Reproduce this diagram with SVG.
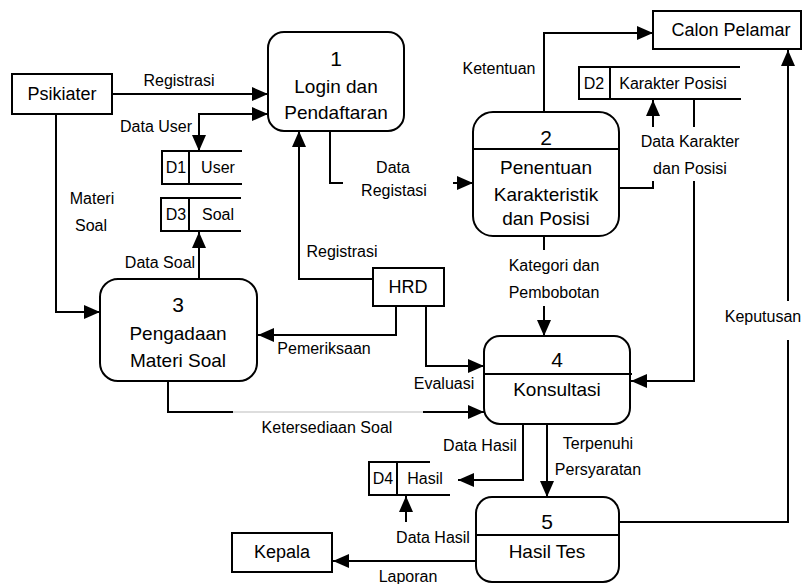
<svg xmlns="http://www.w3.org/2000/svg" width="803" height="584" viewBox="0 0 803 584">
<style>
text{font-family:"Liberation Sans",Arial,sans-serif;fill:#000;text-anchor:middle}
.lb{font-size:16px}
.nd{font-size:19px}
.num{font-size:21px}
.ent{font-size:18px}
.st{font-size:16px}
.box{fill:#fff;stroke:#000;stroke-width:2}
.ln{fill:none;stroke:#000;stroke-width:2}
.ar{fill:none;stroke:#000;stroke-width:2;marker-end:url(#ah)}
</style>
<defs>
<marker id="ah" markerUnits="userSpaceOnUse" markerWidth="16" markerHeight="14" refX="16" refY="7" orient="auto">
<path d="M0,0 L16,7 L0,14 z" fill="#000"/>
</marker>
<marker id="as" markerUnits="userSpaceOnUse" markerWidth="16" markerHeight="14" refX="0" refY="7" orient="auto">
<path d="M16,0 L0,7 L16,14 z" fill="#000"/>
</marker>
</defs>
<rect width="803" height="584" fill="#fff"/>

<g id="connectors">
<path class="ar" d="M112,94 H268"/>
<path class="ln" d="M268,114 H199 V151" style="marker-start:url(#as);marker-end:url(#ah)"/>
<path class="ln" d="M330,131 V183 H343"/>
<path class="ar" d="M453,183 H473"/>
<path class="ar" d="M373,279 H299 V131"/>
<path class="ar" d="M544,112 V33 H653"/>
<path class="ln" d="M619,188 H653 V181"/>
<path class="ar" d="M653,127 V100"/>
<path class="ln" d="M694,99 V127"/>
<path class="ar" d="M694,181 V381 H631"/>
<path class="ln" d="M619,522 H788 V340"/>
<path class="ar" d="M788,301 V50"/>
<path class="ln" d="M544,236 V250"/>
<path class="ar" d="M544,306 V336"/>
<path class="ar" d="M56,114 V312 H100"/>
<path class="ar" d="M199,279 V232"/>
<path class="ar" d="M396,306 V335 H258"/>
<path class="ar" d="M426,306 V366 H484"/>
<path class="ln" d="M168,381 V412 H233"/>
<path d="M233,412 H423" fill="none" stroke="#bbb" stroke-width="1"/>
<path class="ar" d="M423,412 H484"/>
<path class="ar" d="M523,424 V480 H458"/>
<path class="ar" d="M547,424 V497"/>
<path class="ar" d="M406,522 V496"/>
<path class="ar" d="M476,561 H333"/>
</g>

<g id="labels">
<text class="lb" x="179" y="86">Registrasi</text>
<text class="lb" x="156" y="132">Data User</text>
<text class="lb" x="92" y="204">Materi</text>
<text class="lb" x="91" y="231">Soal</text>
<text class="lb" x="393" y="173">Data</text>
<text class="lb" x="394" y="196">Registasi</text>
<text class="lb" x="499" y="74">Ketentuan</text>
<text class="lb" x="690" y="147">Data Karakter</text>
<text class="lb" x="690" y="174">dan Posisi</text>
<text class="lb" x="342" y="257">Registrasi</text>
<text class="lb" x="160" y="268">Data Soal</text>
<text class="lb" x="324" y="354">Pemeriksaan</text>
<text class="lb" x="554" y="271">Kategori dan</text>
<text class="lb" x="554" y="298">Pembobotan</text>
<text class="lb" x="763" y="322">Keputusan</text>
<text class="lb" x="444" y="389">Evaluasi</text>
<text class="lb" x="327" y="433">Ketersediaan Soal</text>
<text class="lb" x="480" y="451">Data Hasil</text>
<text class="lb" x="598" y="449">Terpenuhi</text>
<text class="lb" x="598" y="475">Persyaratan</text>
<text class="lb" x="433" y="543">Data Hasil</text>
<text class="lb" x="408" y="582">Laporan</text>
</g>

<g id="psikiater">
<rect class="box" x="12" y="74" width="100" height="40"/>
<text class="ent" x="62" y="100">Psikiater</text>
</g>
<g id="calon-pelamar">
<rect class="box" x="653" y="11" width="148" height="38"/>
<text class="ent" x="731" y="36">Calon Pelamar</text>
</g>
<g id="hrd">
<rect class="box" x="373" y="268" width="71" height="38"/>
<text class="ent" x="408" y="293">HRD</text>
</g>
<g id="kepala">
<rect class="box" x="232" y="533" width="100" height="39"/>
<text class="ent" x="282" y="558">Kepala</text>
</g>

<g id="p1">
<rect class="box" x="268" y="32" width="136" height="99" rx="16"/>
<text class="num" x="336" y="66">1</text>
<text class="nd" x="336" y="93">Login dan</text>
<text class="nd" x="336" y="119">Pendaftaran</text>
</g>
<g id="p2">
<rect class="box" x="473" y="112" width="146" height="124" rx="20"/>
<line class="ln" x1="473" y1="149" x2="619" y2="149"/>
<text class="num" x="546" y="145">2</text>
<text class="nd" x="546" y="174">Penentuan</text>
<text class="nd" x="546" y="201">Karakteristik</text>
<text class="nd" x="546" y="225">dan Posisi</text>
</g>
<g id="p3">
<rect class="box" x="100" y="279" width="157" height="102" rx="18"/>
<text class="num" x="178" y="312">3</text>
<text class="nd" x="178" y="340">Pengadaan</text>
<text class="nd" x="178" y="367">Materi Soal</text>
</g>
<g id="p4">
<rect class="box" x="484" y="336" width="146" height="88" rx="16"/>
<line class="ln" x1="484" y1="374" x2="632" y2="374"/>
<text class="num" x="557" y="367">4</text>
<text class="nd" x="557" y="396">Konsultasi</text>
</g>
<g id="p5">
<rect class="box" x="476" y="497" width="143" height="85" rx="16"/>
<line class="ln" x1="476" y1="535" x2="619" y2="535"/>
<text class="num" x="547" y="529">5</text>
<text class="nd" x="547" y="558">Hasil Tes</text>
</g>

<g id="d1">
<path class="ln" d="M242,151 H162 V184 H242 M189,151 V184"/>
<text class="st" x="176" y="173">D1</text>
<text class="st" x="218" y="173">User</text>
</g>
<g id="d3">
<path class="ln" d="M241,198 H161 V231 H241 M189,198 V231"/>
<text class="st" x="176" y="220">D3</text>
<text class="st" x="218" y="220">Soal</text>
</g>
<g id="d2">
<path class="ln" d="M740,67 H579 V99 H741 M610,67 V99"/>
<text class="st" x="594" y="89">D2</text>
<text class="st" x="673" y="89">Karakter Posisi</text>
</g>
<g id="d4">
<path class="ln" d="M430,462 H369 V495 H450 M397,462 V495"/>
<text class="st" x="383" y="484">D4</text>
<text class="st" x="425" y="484">Hasil</text>
</g>
</svg>
